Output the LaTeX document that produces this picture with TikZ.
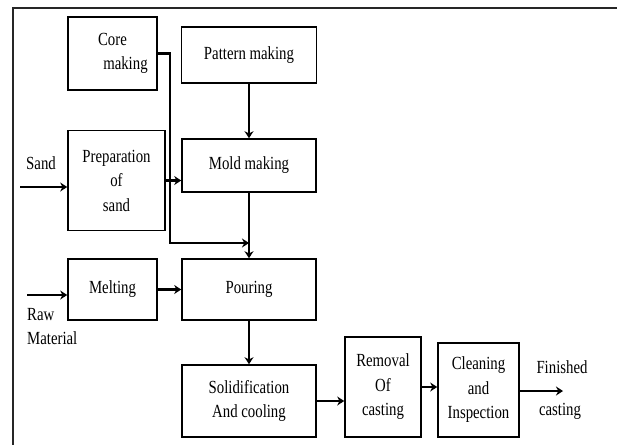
\documentclass[tikz,border=0pt]{standalone}
\usepackage{fontspec}
\setmainfont[FakeStretch=0.8]{Liberation Serif}
\usetikzlibrary{positioning,arrows.meta}

\begin{document}
\begin{tikzpicture}[x=1pt,y=-1pt,node distance=20pt,on grid,
    box/.style={draw,line width=1.6pt,inner sep=1pt,align=center,
      font=\fontsize{18.5}{24.5}\selectfont},
    lbl/.style={font=\fontsize{18.5}{24.5}\selectfont,inner sep=0pt},
    arr/.style={line width=2.5pt,-{Stealth[length=7pt,width=9pt]}}]
   \useasboundingbox (0,0) rectangle (617,445);
   % frame
   \draw[line width=1.3pt,black!85] (617,8) -- (13,8) -- (13,445);
   % boxes
   \node[box,minimum width=134pt,minimum height=61pt] (pour) at (249,289.5) {Pouring};
   \node[box,minimum width=134pt,minimum height=53pt] (mold) [above=124pt of pour] {Mold making};
   \node[box,minimum width=135pt,minimum height=56pt] (pattern) [above=110.5pt of mold] {Pattern making};
   \node[box,minimum width=134pt,minimum height=72pt] (solid) [below=111.5pt of pour] {Solidification\\And cooling};
   \node[box,minimum width=89pt,minimum height=61pt] (melt) [left=136.5pt of pour] {Melting};
   \node[box,minimum width=89pt,minimum height=73pt] (core) at (112.5,53.5) {Core\\\hspace*{1.4em}making};
   \node[box,minimum width=97pt,minimum height=100pt] (prep) at (116.5,180.5) {Preparation\\of\\sand};
   \node[box,minimum width=76pt,minimum height=100pt] (removal) at (383,387) {Removal\\Of\\casting};
   \node[box,minimum width=81pt,minimum height=94pt] (clean) at (478.5,390) {Cleaning\\and\\Inspection};
   % inputs and output
   \coordinate (sandin) at (20,187);
   \coordinate (rawin) at (27,295);
   \coordinate (fin) at (563,391);
   \coordinate (corner) at (170,243);
   \coordinate (join) at (mold.south |- corner);
   \node[lbl] (sand) at (41,163) {Sand};
   \node[lbl,align=left,anchor=north west] (raw) at (27,308) {Raw\\Material};
   \node[lbl] (finished) at (562,367) {Finished};
   \node[lbl] (casting) at (560,411) {casting};
   % connectors
   \draw[arr] (sandin) -- (sandin -| prep.west);
   \draw[arr] (rawin) -- (rawin -| melt.west);
   \draw[arr] (core.east) -| (corner) -- (join);
   \draw[arr] (pattern) -- (mold);
   \draw[arr] (prep.east) -- (prep.east -| mold.west);
   \draw[arr] (mold) -- (pour);
   \draw[arr] (melt) -- (pour);
   \draw[arr] (pour) -- (solid);
   \draw[arr] (solid.east) -- (solid.east -| removal.west);
   \draw[arr] (removal.east) -- (removal.east -| clean.west);
   \draw[arr] (clean.east |- fin) -- (fin);
\end{tikzpicture}
\end{document}
